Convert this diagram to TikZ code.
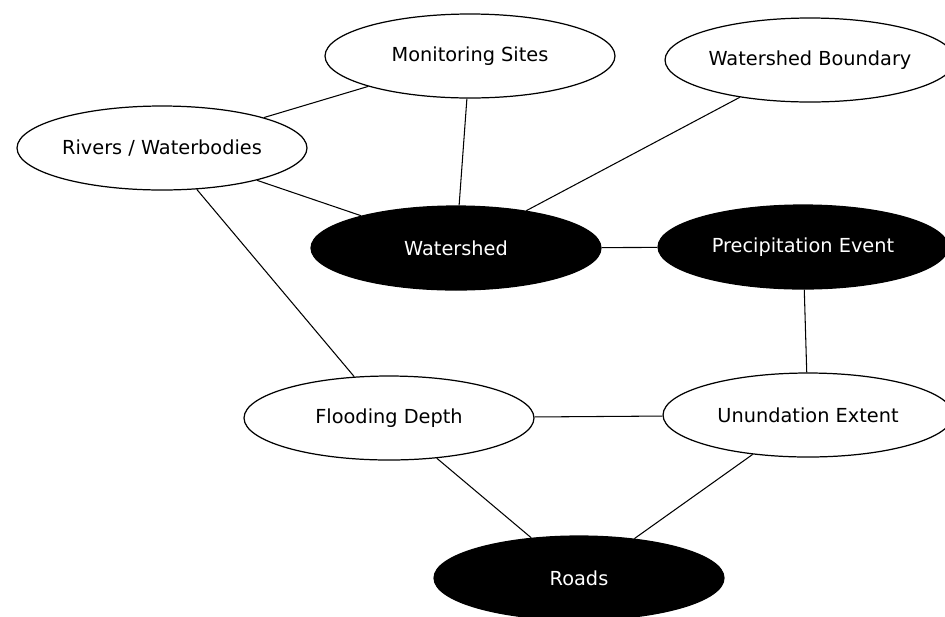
\documentclass[tikz,border=0pt]{standalone}
\usepackage{fontspec}
\setmainfont{DejaVu Sans}
\usetikzlibrary{shapes.geometric}

\begin{document}
\begin{tikzpicture}[x=.02cm, y=-.02cm,
    topic/.style={draw, ellipse, line width=.7pt, minimum width=5.8cm,
      minimum height=1.68cm, inner sep=0pt, font=\fontsize{11}{13}\selectfont},
    layer/.style={topic, fill=black, text=white},
    link/.style={line width=.6pt}]

  \useasboundingbox (0, 0) rectangle (945, 616);

  \node[topic] (sites)     at (470, 56)  {Monitoring Sites};
  \node[topic] (boundary)  at (810, 60)  {Watershed Boundary};
  \node[topic] (rivers)    at (162, 148) {Rivers / Waterbodies};
  \node[layer] (watershed) at (456, 248) {Watershed};
  \node[layer] (precip)    at (803, 247) {Precipitation Event};
  \node[topic] (depth)     at (389, 418) {Flooding Depth};
  \node[topic] (extent)    at (808, 415) {Unundation Extent};
  \node[layer] (roads)     at (579, 578) {Roads};

  \draw[link] (rivers) -- (sites);
  \draw[link] (rivers) -- (watershed);
  \draw[link] (rivers) -- (depth);
  \draw[link] (sites) -- (watershed);
  \draw[link] (boundary) -- (watershed);
  \draw[link] (watershed) -- (precip);
  \draw[link] (precip) -- (extent);
  \draw[link] (depth) -- (extent);
  \draw[link] (depth) -- (roads);
  \draw[link] (extent) -- (roads);

\end{tikzpicture}
\end{document}
